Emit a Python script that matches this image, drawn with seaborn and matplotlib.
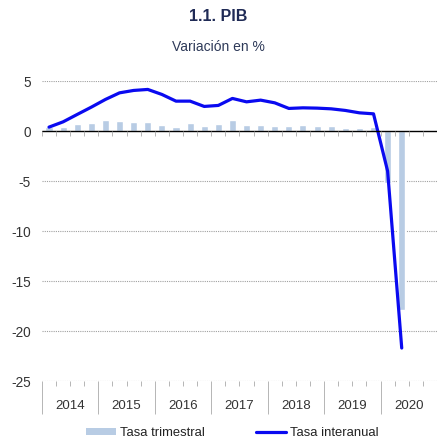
import numpy as np
import pandas as pd
import matplotlib.pyplot as plt
import seaborn as sns
from matplotlib.patches import Patch
from matplotlib.lines import Line2D
from matplotlib.ticker import FixedLocator, NullFormatter, FixedFormatter

# Datos
years = ["2014", "2015", "2016", "2017", "2018", "2019", "2020"]
quarters = [f"{y}T{q}" for y in years for q in range(1, 5)][:26]
tasa_trimestral = [0.4, 0.45, 0.7, 0.8, 1.15, 1.05, 0.9, 0.95, 0.65, 0.45, 0.85, 0.5,
                   0.75, 1.07, 0.57, 0.6, 0.5, 0.47, 0.57, 0.53, 0.5, 0.33, 0.33, 0.37,
                   -5.2, -17.9]
tasa_interanual = [0.4, 0.93, 1.67, 2.4, 3.17, 3.83, 4.07, 4.17, 3.67, 3.0, 3.0, 2.47,
                   2.57, 3.27, 2.93, 3.1, 2.83, 2.27, 2.33, 2.3, 2.23, 2.07, 1.83, 1.73,
                   -4.0, -21.7]
y_ticks = [5, 0, -5, -10, -15, -20, -25]

df = pd.DataFrame({"trimestre": quarters,
                   "trimestral": tasa_trimestral,
                   "interanual": tasa_interanual})
df["pos"] = np.arange(len(df))

sns.set_theme(style="white")
plt.rcParams["font.family"] = ["Liberation Sans", "DejaVu Sans"]
plt.rcParams["axes.unicode_minus"] = False

fig = plt.figure(figsize=(4.37, 4.41), dpi=100)
ax = fig.add_axes([0.096, 0.136, 0.904, 0.68])

bar_color = "#B8CCE4"
line_color = "#0A0AF0"

sns.barplot(data=df, x="trimestre", y="trimestral", order=quarters, width=0.5,
            color=bar_color, saturation=1, ax=ax, zorder=2)
sns.lineplot(data=df, x="pos", y="interanual", color=line_color, linewidth=2.3,
             ax=ax, zorder=3)

n_slots = len(years) * 4
ax.set_xlim(-0.5, n_slots - 0.5)
ax.set_ylim(-25, 5)
ax.set_xlabel("")
ax.set_ylabel("")

# rejilla punteada
for v in y_ticks:
    if v != 0:
        ax.axhline(v, color="#a0a0a0", linestyle=(0, (1, 1)), linewidth=0.8, zorder=1)
ax.axhline(0, color="black", linewidth=1.0, zorder=4)

for s in ax.spines.values():
    s.set_visible(False)

# ejes: líneas de año largas y marcas trimestrales cortas
bounds = np.arange(n_slots + 1) - 0.5
year_bounds = bounds[::4]
q_bounds = [b for i, b in enumerate(bounds) if i % 4 != 0]
ax.xaxis.set_major_locator(FixedLocator(year_bounds))
ax.xaxis.set_major_formatter(NullFormatter())
ax.xaxis.set_minor_locator(FixedLocator(q_bounds))
minor_labels = []
for i, b in enumerate(bounds):
    if i % 4 == 0:
        continue
    minor_labels.append(years[i // 4] if i % 4 == 2 else "")
ax.xaxis.set_minor_formatter(FixedFormatter(minor_labels))
ax.tick_params(axis="x", which="major", bottom=True, length=24, width=0.6,
               color="#aaaaaa", direction="out")
ax.tick_params(axis="x", which="minor", bottom=True, length=3.5, width=0.6,
               color="#aaaaaa", direction="out", pad=10, labelsize=9.5,
               labelcolor="#333333")
# marcas trimestrales bajo la línea de cero
ax.vlines(bounds, -0.45, 0, color="#aaaaaa", linewidth=0.6, zorder=4)

ax.set_yticks(y_ticks)
ax.tick_params(axis="y", length=0, pad=8, labelsize=9.8, labelcolor="#333333")

fig.text(0.5, 0.962, "1.1. PIB", ha="center", va="center", fontsize=11.5,
         fontweight="bold", color="#1F2A55")
fig.text(0.5, 0.893, "Variación en %", ha="center", va="center", fontsize=10,
         color="#2E3A59")

# leyenda: dos entradas colocadas por separado
leg_kw = dict(frameon=False, fontsize=9.4, handlelength=2.3, handleheight=0.5,
              handletextpad=0.3, loc="center left", borderpad=0.2)
leg1 = fig.legend([Patch(facecolor=bar_color, edgecolor="none")], ["Tasa trimestral"],
                  bbox_to_anchor=(0.175, 0.018), **leg_kw)
leg2 = fig.legend([Line2D([0], [0], color=line_color, linewidth=2.3)], ["Tasa interanual"],
                  bbox_to_anchor=(0.565, 0.018), **leg_kw)
for leg in (leg1, leg2):
    for t in leg.get_texts():
        t.set_color("#222222")

fig.savefig("out.png", dpi=100)
